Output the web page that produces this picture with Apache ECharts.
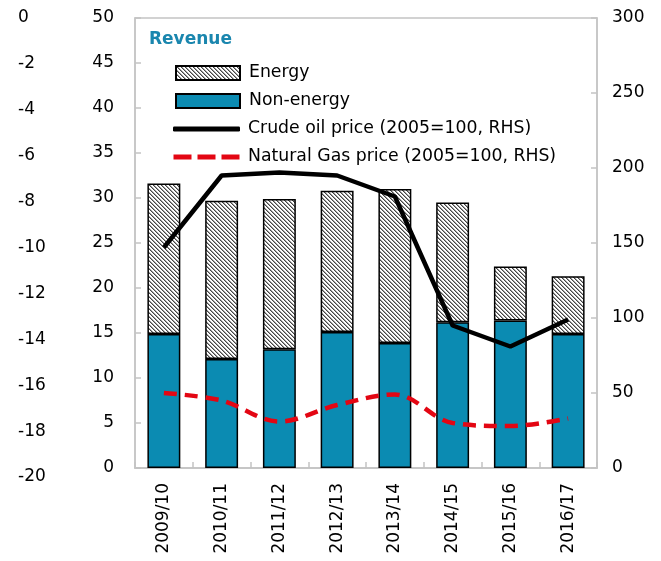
<!DOCTYPE html>
<html>
<head>
<meta charset="utf-8">
<script src="https://cdn.jsdelivr.net/npm/echarts@6/dist/echarts.min.js"></script>
<style>
  html, body { margin: 0; padding: 0; background: #fff; }
  #chart { width: 661px; height: 561px; }
</style>
</head>
<body>
<div id="chart"></div>
<script>
// Fiscal years on the category axis
const years = ['2009/10', '2010/11', '2011/12', '2012/13', '2013/14', '2014/15', '2015/16', '2016/17'];
// Revenue components (left axis)
const nonEnergy = [14.9, 12.1, 13.2, 15.1, 13.9, 16.2, 16.4, 14.9];
const energy = [16.7, 17.6, 16.7, 15.7, 17.1, 13.3, 6.0, 6.4];
// Price indices, 2005=100 (right axis)
const crudeOil = [147, 195, 197, 195, 181, 95, 81, 99];
const naturalGas = [50, 45, 31, 42, 49, 30, 28, 33];
// Secondary left-hand scale labels
const outerTicks = [0, -2, -4, -6, -8, -10, -12, -14, -16, -18, -20];

const FONT = '"DejaVu Sans", sans-serif';
const BLUE = '#0B8BB2';
const RED = '#E30613';
const FRAME = '#C4C4C4';

const NAME_ENERGY = 'Energy';
const NAME_NON = 'Non-energy';
const NAME_OIL = 'Crude oil price (2005=100, RHS)';
const NAME_GAS = 'Natural Gas price (2005=100, RHS)';

// diagonal hatch fill for the energy component
function hatch() {
  const c = document.createElement('canvas');
  c.width = 4; c.height = 4;
  const ctx = c.getContext('2d');
  const img = ctx.createImageData(4, 4);
  for (let y = 0; y < 4; y++) {
    for (let x = 0; x < 4; x++) {
      const k = ((x - y) % 4 + 4) % 4;
      const v = k === 0 ? 70 : (k === 1 ? 160 : 255);
      const i = (y * 4 + x) * 4;
      img.data[i] = v; img.data[i + 1] = v; img.data[i + 2] = v; img.data[i + 3] = 255;
    }
  }
  ctx.putImageData(img, 0, 0);
  return { image: c, repeat: 'repeat' };
}

const chart = echarts.init(document.getElementById('chart'), null, { renderer: 'canvas' });

const labelStyle = { color: '#000', fontSize: 17, fontFamily: FONT };
const legendText = { color: '#000', fontSize: 17.3, fontFamily: FONT, lineHeight: 18 };

chart.setOption({
  animation: false,
  title: {
    text: 'Revenue',
    left: 144, top: 26,
    textStyle: { color: '#1A86AE', fontSize: 17, fontWeight: 'bold', fontFamily: FONT }
  },
  legend: [
    {
      orient: 'vertical', padding: 0,
      left: 175, top: 64,
      itemWidth: 64, itemHeight: 14, itemGap: 10,
      icon: 'rect',
      data: [NAME_ENERGY, NAME_NON],
      textStyle: Object.assign({ padding: [0, 0, 0, 4] }, legendText)
    },
    {
      orient: 'vertical', padding: 0,
      left: 173, top: 120,
      itemWidth: 67, itemHeight: 5, itemGap: 10,
      data: [
        { name: NAME_OIL, icon: 'roundRect' },
        { name: NAME_GAS, icon: 'path://M0,0h18v5h-18z M24,0h18v5h-18z M48,0h18v5h-18z' }
      ],
      textStyle: Object.assign({ padding: [0, 0, 0, 3] }, legendText)
    }
  ],
  grid: [
    { left: 135, right: 64, top: 18, bottom: 93, show: true, borderColor: FRAME, borderWidth: 1.5 },
    { left: 135, right: 64, top: 18, bottom: 84, show: false }
  ],
  xAxis: [
    {
      type: 'category', gridIndex: 0, data: years,
      axisLine: { lineStyle: { color: FRAME, width: 1.5 } },
      axisTick: { show: true, inside: true, length: 6, lineStyle: { color: FRAME, width: 1.5 } },
      axisLabel: Object.assign({ rotate: 90, margin: 15, interval: 0 }, labelStyle)
    },
    { type: 'category', gridIndex: 1, data: years, show: false }
  ],
  yAxis: [
    {
      type: 'value', gridIndex: 0, min: 0, max: 50, interval: 5, position: 'left',
      splitLine: { show: false },
      axisLine: { show: true, lineStyle: { color: FRAME, width: 1.5 } },
      axisTick: { show: true, inside: true, length: 6, lineStyle: { color: FRAME, width: 1.5 } },
      axisLabel: Object.assign({ margin: 21 }, labelStyle)
    },
    {
      type: 'value', gridIndex: 0, min: 0, max: 300, interval: 50, position: 'right',
      splitLine: { show: false },
      axisLine: { show: true, lineStyle: { color: FRAME, width: 1.5 } },
      axisTick: { show: true, inside: true, length: 6, lineStyle: { color: FRAME, width: 1.5 } },
      axisLabel: Object.assign({ margin: 15 }, labelStyle)
    },
    {
      type: 'value', gridIndex: 1, min: -20, max: 0, interval: 2, position: 'left',
      splitLine: { show: false },
      axisLine: { show: false },
      axisTick: { show: false },
      axisLabel: Object.assign({ margin: 117, align: 'left', customValues: outerTicks }, labelStyle)
    }
  ],
  series: [
    {
      name: NAME_NON, type: 'bar', stack: 'rev', xAxisIndex: 0, yAxisIndex: 0,
      barWidth: '57%', data: nonEnergy,
      itemStyle: { color: BLUE, borderColor: '#000', borderWidth: 1.5 },
      z: 2
    },
    {
      name: NAME_ENERGY, type: 'bar', stack: 'rev', xAxisIndex: 0, yAxisIndex: 0,
      barWidth: '57%', data: energy,
      itemStyle: { color: hatch(), borderColor: '#000', borderWidth: 1.5 },
      z: 2
    },
    {
      name: NAME_OIL, type: 'line', xAxisIndex: 0, yAxisIndex: 1,
      data: crudeOil, symbol: 'none',
      lineStyle: { color: '#000', width: 4.5 },
      itemStyle: { color: '#000' },
      z: 3
    },
    {
      name: NAME_GAS, type: 'line', xAxisIndex: 0, yAxisIndex: 1,
      data: naturalGas, symbol: 'none', smooth: 0.35,
      lineStyle: { color: RED, width: 4.5, type: [13, 8] },
      itemStyle: { color: RED },
      z: 3
    },
    {
      // carries the secondary left-hand scale
      type: 'line', xAxisIndex: 1, yAxisIndex: 2, data: [], silent: true
    }
  ]
});
</script>
</body>
</html>
